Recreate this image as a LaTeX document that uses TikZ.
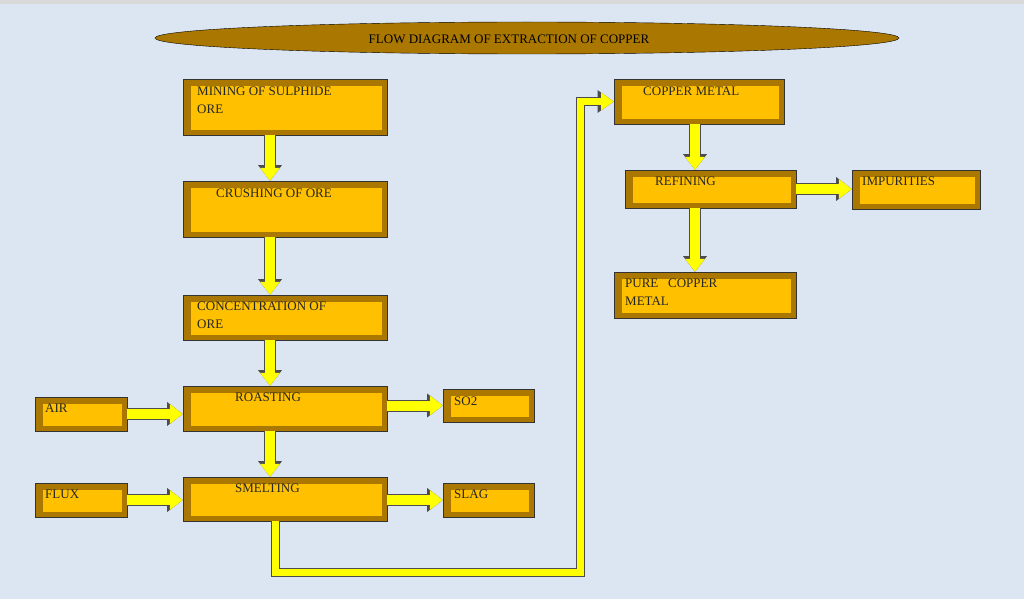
\documentclass[tikz,border=0pt]{standalone}
\usepackage{fontspec}
\setmainfont{Liberation Serif}
\usetikzlibrary{arrows.meta, shapes.geometric}

\definecolor{bg}{RGB}{220,230,242}
\definecolor{gold}{RGB}{255,192,0}
\definecolor{dgold}{RGB}{170,120,0}
\definecolor{ayel}{RGB}{255,255,0}

\tikzset{
  box/.style={rectangle, draw=black!80, fill=dgold, inner sep=0pt,
    path picture={\fill[gold] ([shift={(8pt,-7pt)}]path picture bounding box.north west)
      rectangle ([shift={(-5pt,5pt)}]path picture bounding box.south east);}},
  txt/.style={anchor=north west, inner sep=0pt, align=left, font=\fontsize{13}{18}\selectfont, text=black!85},
  fat/.style={draw=ayel, line width=10pt, -{Triangle[width=0pt 1.9, length=0pt 1.3]},
    preaction={draw=black!70, line width=12pt, -{Triangle[width=0pt 1.9, length=0pt 1.3]}}},
  pipe/.style={draw=ayel, line width=7pt, -{Triangle[width=0pt 2.4, length=0pt 1.8]},
    preaction={draw=black!70, line width=9pt, -{Triangle[width=0pt 2.4, length=0pt 1.8]}}}
}

\begin{document}
\begin{tikzpicture}[x=1pt, y=-1pt]
\fill[bg] (0,0) rectangle (1024,599);
\fill[black!15] (0,0) rectangle (1024,4);
\useasboundingbox (0,0) rectangle (1024,599);

% title
\node[ellipse, draw=black, fill=dgold, minimum width=744pt, minimum height=32pt, inner sep=0pt,
  path picture={\fill[gold] (270,29) rectangle (782,48);}] (title) at (527,38) {};
\node[inner sep=0pt, font=\fontsize{13}{15}\selectfont] (titletxt) at (509,39) {FLOW DIAGRAM OF EXTRACTION OF COPPER};

% main column
\node[box, minimum width=204pt, minimum height=56pt] (mining) at (285,107) {};
\node[txt] (miningtxt) at (197,87) {MINING OF SULPHIDE\\ORE};
\node[box, minimum width=204pt, minimum height=56pt] (crush) at (285,209) {};
\node[txt] (crushtxt) at (216,189) {CRUSHING OF ORE};
\node[box, minimum width=204pt, minimum height=45pt] (conc) at (285,317.5) {};
\node[txt] (conctxt) at (197,302) {CONCENTRATION OF\\ORE};
\node[box, minimum width=204pt, minimum height=45pt] (roast) at (285,408.5) {};
\node[txt] (roasttxt) at (235,393) {ROASTING};
\node[box, minimum width=204pt, minimum height=44pt] (smelt) at (285,499) {};
\node[txt] (smelttxt) at (235,484) {SMELTING};

% side boxes
\node[box, minimum width=92pt, minimum height=34pt] (air) at (81,414) {};
\node[txt] (airtxt) at (45,404) {AIR};
\node[box, minimum width=91pt, minimum height=33pt] (so2) at (488.5,405.5) {};
\node[txt] (so2txt) at (454,397) {SO2};
\node[box, minimum width=92pt, minimum height=34pt] (flux) at (81,500) {};
\node[txt] (fluxtxt) at (45,490) {FLUX};
\node[box, minimum width=91pt, minimum height=34pt] (slag) at (488.5,500) {};
\node[txt] (slagtxt) at (454,490) {SLAG};

% right column
\node[box, minimum width=170pt, minimum height=45pt] (copper) at (699,101.5) {};
\node[txt] (coppertxt) at (643,87) {COPPER METAL};
\node[box, minimum width=171pt, minimum height=38pt] (refine) at (710.5,189) {};
\node[txt] (refinetxt) at (655,177) {REFINING};
\node[box, minimum width=128pt, minimum height=39pt] (impure) at (916,189.5) {};
\node[txt] (impuretxt) at (862,177) {IMPURITIES};
\node[box, minimum width=182pt, minimum height=46pt] (pure) at (705,295) {};
\node[txt] (puretxt) at (625,279) {PURE \ \ COPPER\\METAL};

\coordinate (lx) at (270,0);
\coordinate (px) at (275,0);
\coordinate (rx) at (695,0);
\coordinate (bend) at (580,572);

% arrows
\draw[fat] (mining.south -| lx) -- (crush.north -| lx);
\draw[fat] (crush.south -| lx) -- (conc.north -| lx);
\draw[fat] (conc.south -| lx) -- (roast.north -| lx);
\draw[fat] (roast.south -| lx) -- (smelt.north -| lx);
\draw[fat] (air) -- (roast.west |- air);
\draw[fat] (roast.east |- so2) -- (so2);
\draw[fat] (flux) -- (smelt.west |- flux);
\draw[fat] (smelt.east |- slag) -- (slag);
\draw[fat] (copper.south -| rx) -- (refine.north -| rx);
\draw[fat] (refine.south -| rx) -- (pure.north -| rx);
\draw[fat] (refine) -- (impure.west |- refine);
\draw[pipe] (smelt.south -| px) |- (bend) |- (copper.west);
\end{tikzpicture}
\end{document}
